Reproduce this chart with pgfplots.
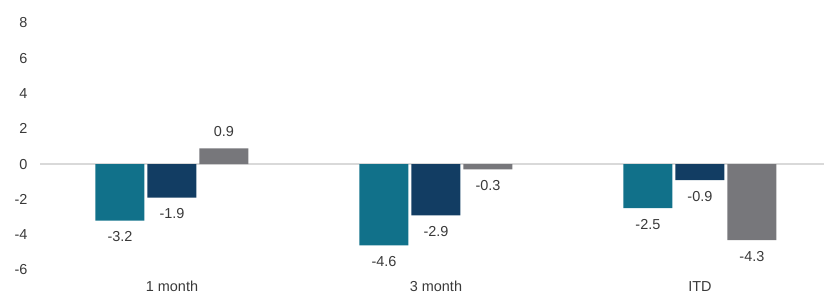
\documentclass[border=0pt]{standalone}
\usepackage{pgfplots}
\pgfplotsset{compat=1.18}
\usepackage{fontspec}
\setmainfont{Liberation Sans}
\definecolor{cteal}{HTML}{11718A}
\definecolor{cnavy}{HTML}{123D63}
\definecolor{cgray}{HTML}{77777B}
\definecolor{ctext}{HTML}{3A3A3A}
\definecolor{czero}{HTML}{D9D9D9}
\begin{document}
\begin{tikzpicture}
\useasboundingbox (0,0) rectangle (824bp,294bp);
\begin{axis}[
  at={(40bp,24bp)}, anchor=south west,
  scale only axis, width=784bp, height=247bp,
  ybar=3bp, bar width=49bp,
  xmin=-0.5, xmax=2.47,
  ymin=-6, ymax=8,
  ytick={-6,-4,...,8},
  xtick={0,1,2},
  xticklabels={1 month,3 month,ITD},
  axis line style={draw=none},
  major tick length=0pt,
  font=\fontsize{14.5}{16}\selectfont,
  ticklabel style={text=ctext},
  /pgf/number format/assume math mode=true,
  yticklabel style={xshift=-9bp},
  xticklabel style={yshift=-8bp},
  extra y ticks={0}, extra y tick labels={},
  extra y tick style={grid=major, major grid style={color=czero, line width=1.6bp}},
  nodes near coords,
  nodes near coords style={font=\fontsize{14.5}{16}\selectfont, text=ctext, inner sep=11bp,
    /pgf/number format/.cd, fixed, fixed zerofill, precision=1, assume math mode=true},
  clip=false,
]
\addplot[fill=cteal, draw=none] coordinates {(0,-3.2) (1,-4.6) (2,-2.5)};
\addplot[fill=cnavy, draw=none] coordinates {(0,-1.9) (1,-2.9) (2,-0.9)};
\addplot[fill=cgray, draw=none] coordinates {(0,0.9) (1,-0.3) (2,-4.3)};
\end{axis}
\end{tikzpicture}
\end{document}
